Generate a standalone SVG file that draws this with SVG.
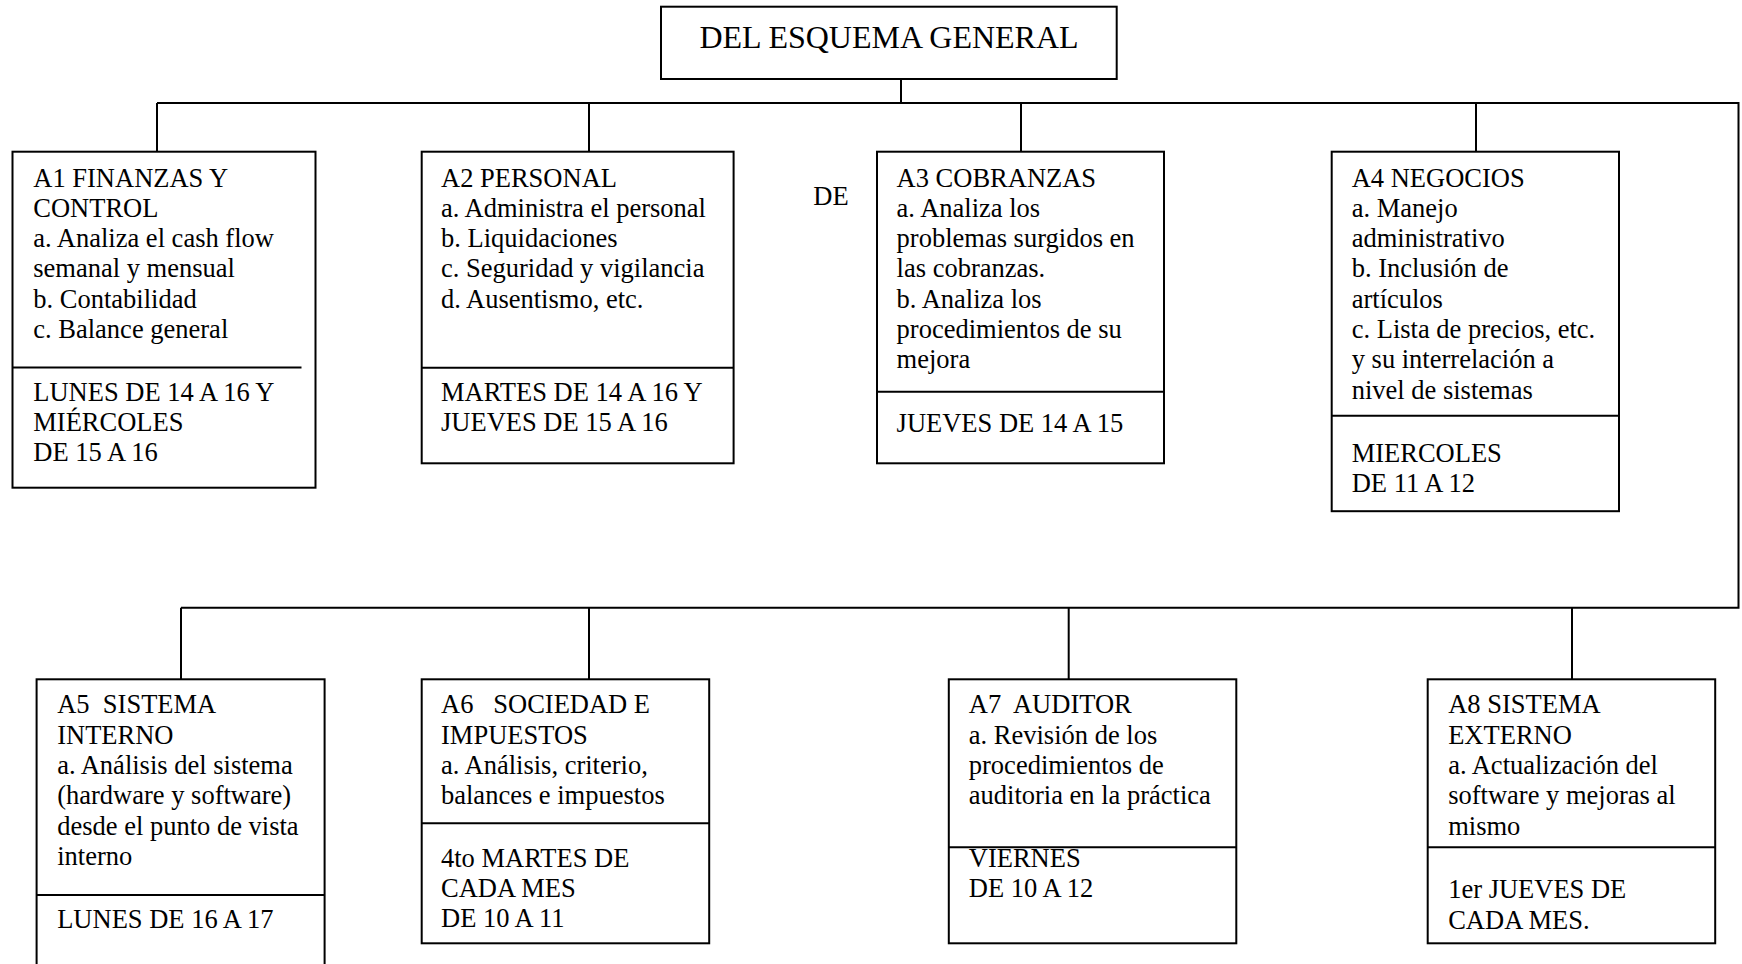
<svg xmlns="http://www.w3.org/2000/svg" width="1742" height="964" viewBox="0 0 1742 964">
<style>
.box{fill:#fff;stroke:#000;stroke-width:2}
.div{stroke:#000;stroke-width:2;fill:none}
.con{stroke:#000;stroke-width:2;fill:none}
text{font-family:"Liberation Serif","Times New Roman",serif;fill:#000}
.t{font-size:26.5px}
.title{font-size:32px;text-anchor:middle}
</style>
<rect width="1742" height="964" fill="#fff"/>
<g id="connectors">
<path class="con" d="M901,79 V103 M157,103 H1738.5 V607.7 H181 M157,103 V151.7 M589,103 V151.7 M1021,103 V151.7 M1476,103 V151.7 M181,607.7 V679.3 M589,607.7 V679.3 M1068.7,607.7 V679.3 M1572,607.7 V679.3"/>
</g>
<g id="root">
<rect class="box" x="661" y="6.7" width="455.7" height="72.3"/>
<text class="title" x="889" y="48">DEL ESQUEMA GENERAL</text>
</g>
<g id="A1">
<rect class="box" x="12.5" y="151.7" width="303" height="336"/>
<line class="div" x1="12.5" y1="367.5" x2="301.5" y2="367.5"/>
<text class="t"><tspan x="33.3" y="186.5">A1 FINANZAS Y</tspan><tspan x="33.3" y="216.8">CONTROL</tspan><tspan x="33.3" y="247.1">a. Analiza el cash flow</tspan><tspan x="33.3" y="277.4">semanal y mensual</tspan><tspan x="33.3" y="307.7">b. Contabilidad</tspan><tspan x="33.3" y="338">c. Balance general</tspan></text>
<text class="t"><tspan x="33.3" y="401">LUNES DE 14 A 16 Y</tspan><tspan x="33.3" y="431">MIÉRCOLES</tspan><tspan x="33.3" y="461">DE 15 A 16</tspan></text>
</g>
<g id="A2">
<rect class="box" x="421.7" y="151.7" width="311.9" height="311.6"/>
<line class="div" x1="421.7" y1="367.7" x2="733.6" y2="367.7"/>
<text class="t"><tspan x="441" y="186.5">A2 PERSONAL</tspan><tspan x="441" y="216.8">a. Administra el personal</tspan><tspan x="441" y="247.1">b. Liquidaciones</tspan><tspan x="441" y="277.4">c. Seguridad y vigilancia</tspan><tspan x="441" y="307.7">d. Ausentismo, etc.</tspan></text>
<text class="t"><tspan x="441" y="400.5">MARTES DE 14 A 16 Y</tspan><tspan x="441" y="430.8">JUEVES DE 15 A 16</tspan></text>
</g>
<g id="label-de">
<text class="t" x="813.3" y="204.5">DE</text>
</g>
<g id="A3">
<rect class="box" x="877" y="151.7" width="287" height="311.6"/>
<line class="div" x1="877" y1="391.7" x2="1164" y2="391.7"/>
<text class="t"><tspan x="896.6" y="186.5">A3 COBRANZAS</tspan><tspan x="896.6" y="216.8">a. Analiza los</tspan><tspan x="896.6" y="247.1">problemas surgidos en</tspan><tspan x="896.6" y="277.4">las cobranzas.</tspan><tspan x="896.6" y="307.7">b. Analiza los</tspan><tspan x="896.6" y="338">procedimientos de su</tspan><tspan x="896.6" y="368.3">mejora</tspan></text>
<text class="t" x="896.6" y="431.7">JUEVES DE 14 A 15</text>
</g>
<g id="A4">
<rect class="box" x="1331.7" y="151.7" width="287.3" height="359.5"/>
<line class="div" x1="1331.7" y1="415.7" x2="1619" y2="415.7"/>
<text class="t"><tspan x="1351.7" y="186.5">A4 NEGOCIOS</tspan><tspan x="1351.7" y="216.8">a. Manejo</tspan><tspan x="1351.7" y="247.1">administrativo</tspan><tspan x="1351.7" y="277.4">b. Inclusión de</tspan><tspan x="1351.7" y="307.7">artículos</tspan><tspan x="1351.7" y="338">c. Lista de precios, etc.</tspan><tspan x="1351.7" y="368.3">y su interrelación a</tspan><tspan x="1351.7" y="398.6">nivel de sistemas</tspan></text>
<text class="t"><tspan x="1351.7" y="461.7">MIERCOLES</tspan><tspan x="1351.7" y="492">DE 11 A 12</tspan></text>
</g>
<g id="A5">
<rect class="box" x="36.6" y="679.3" width="288" height="300"/>
<line class="div" x1="36.6" y1="895" x2="324.6" y2="895"/>
<text class="t" xml:space="preserve"><tspan x="57.2" y="713.3">A5  SISTEMA</tspan><tspan x="57.2" y="743.6">INTERNO</tspan><tspan x="57.2" y="773.9">a. Análisis del sistema</tspan><tspan x="57.2" y="804.2">(hardware y software)</tspan><tspan x="57.2" y="834.5">desde el punto de vista</tspan><tspan x="57.2" y="864.8">interno</tspan></text>
<text class="t" x="57.2" y="928.3">LUNES DE 16 A 17</text>
</g>
<g id="A6">
<rect class="box" x="421.7" y="679.3" width="287.5" height="264"/>
<line class="div" x1="421.7" y1="823.3" x2="709.2" y2="823.3"/>
<text class="t" xml:space="preserve"><tspan x="441" y="713.3">A6   SOCIEDAD E</tspan><tspan x="441" y="743.6">IMPUESTOS</tspan><tspan x="441" y="773.9">a. Análisis, criterio,</tspan><tspan x="441" y="804.2">balances e impuestos</tspan></text>
<text class="t"><tspan x="441" y="866.7">4to MARTES DE</tspan><tspan x="441" y="897">CADA MES</tspan><tspan x="441" y="927.3">DE 10 A 11</tspan></text>
</g>
<g id="A7">
<rect class="box" x="948.8" y="679.3" width="287.5" height="264"/>
<line class="div" x1="948.8" y1="847.3" x2="1236.3" y2="847.3"/>
<text class="t" xml:space="preserve"><tspan x="968.8" y="713.3">A7  AUDITOR</tspan><tspan x="968.8" y="743.6">a. Revisión de los</tspan><tspan x="968.8" y="773.9">procedimientos de</tspan><tspan x="968.8" y="804.2">auditoria en la práctica</tspan></text>
<text class="t"><tspan x="968.8" y="866.7">VIERNES</tspan><tspan x="968.8" y="897">DE 10 A 12</tspan></text>
</g>
<g id="A8">
<rect class="box" x="1427.7" y="679.3" width="287.5" height="264"/>
<line class="div" x1="1427.7" y1="847.3" x2="1715.2" y2="847.3"/>
<text class="t"><tspan x="1448.2" y="713.3">A8 SISTEMA</tspan><tspan x="1448.2" y="743.6">EXTERNO</tspan><tspan x="1448.2" y="773.9">a. Actualización del</tspan><tspan x="1448.2" y="804.2">software y mejoras al</tspan><tspan x="1448.2" y="834.5">mismo</tspan></text>
<text class="t"><tspan x="1448.2" y="898.3">1er JUEVES DE</tspan><tspan x="1448.2" y="928.6">CADA MES.</tspan></text>
</g>
</svg>
